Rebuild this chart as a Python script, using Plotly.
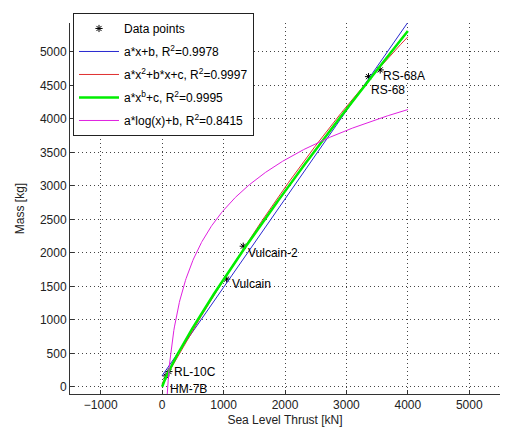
import numpy as np
import plotly.graph_objects as go

# Data
engines = ["HM-7B", "RL-10C", "Vulcain", "Vulcain-2", "RS-68", "RS-68A"]
thrust_kN = [62, 110, 1050, 1320, 3360, 3550]
mass_kg = [165, 230, 1610, 2100, 4630, 4730]

legend_labels = [
    "Data points",
    "a*x+b, R<sup>2</sup>=0.9978",
    "a*x<sup>2</sup>+b*x+c, R<sup>2</sup>=0.9997",
    "a*x<sup>b</sup>+c, R<sup>2</sup>=0.9995",
    "a*log(x)+b, R<sup>2</sup>=0.8415",
]

x = np.array(thrust_kN, dtype=float)
y = np.array(mass_kg, dtype=float)
xf = np.linspace(0, 4000, 401)

# linear fit
p1 = np.polyfit(x, y, 1)
y_lin = np.polyval(p1, xf)
# quadratic fit
p2 = np.polyfit(x, y, 2)
y_quad = np.polyval(p2, xf)
# power fit a*x^b+c (grid search over b)
best = None
for b in np.linspace(0.5, 1.5, 1001):
    A = np.vstack([x**b, np.ones_like(x)]).T
    coef, res, *_ = np.linalg.lstsq(A, y, rcond=None)
    r = np.sum((A @ coef - y) ** 2)
    if best is None or r < best[0]:
        best = (r, b, coef)
_, bp, (ap, cp) = best
y_pow = ap * xf**bp + cp
# log fit
A = np.vstack([np.log(x), np.ones_like(x)]).T
(al, bl), *_ = np.linalg.lstsq(A, y, rcond=None)
xl = xf[1:]
y_log = al * np.log(xl) + bl

FONT = "Liberation Sans, Arial"

fig = go.Figure()
fig.add_trace(go.Scatter(x=thrust_kN, y=mass_kg, mode="markers", name=legend_labels[0],
                         legendgroup="g0",
                         marker=dict(symbol="asterisk-open", size=6, color="black",
                                     line=dict(color="black", width=1))))
fig.add_trace(go.Scatter(x=xf, y=y_lin, mode="lines", name=legend_labels[1], legendgroup="g1",
                         line=dict(color="#2828d0", width=1)))
fig.add_trace(go.Scatter(x=xf, y=y_quad, mode="lines", name=legend_labels[2], legendgroup="g2",
                         line=dict(color="#e03030", width=1)))
fig.add_trace(go.Scatter(x=xf, y=y_pow, mode="lines", name=legend_labels[3], legendgroup="g3",
                         line=dict(color="#00ee00", width=2.5)))
fig.add_trace(go.Scatter(x=xl, y=y_log, mode="lines", name=legend_labels[4], legendgroup="g4",
                         line=dict(color="#e020e0", width=1)))

label_shift = {"HM-7B": (2, -13), "RL-10C": (3, 0), "Vulcain": (3, -5),
               "Vulcain-2": (3, -7), "RS-68": (0, -13), "RS-68A": (1, -6)}
for name, tx, my in zip(engines, thrust_kN, mass_kg):
    dx, dy = label_shift[name]
    fig.add_annotation(x=tx, y=my, text=name, showarrow=False, xanchor="left",
                       yanchor="middle", xshift=dx, yshift=dy,
                       font=dict(family=FONT, size=12, color="black"))

axis_common = dict(showgrid=True, gridcolor="#444444", griddash="1px,3px", gridwidth=1,
                   zeroline=False, showline=True, linecolor="#333333", linewidth=1,
                   ticks="inside", ticklen=4, tickcolor="#333333",
                   tickfont=dict(family=FONT, size=12, color="#222222"),
                   mirror=False)
fig.update_xaxes(range=[-1500, 5500], tickvals=[-1000, 0, 1000, 2000, 3000, 4000, 5000],
                 title=dict(text="Sea Level Thrust [kN]", standoff=4,
                            font=dict(family=FONT, size=12, color="#222222")),
                 **axis_common)
fig.update_yaxes(range=[-105, 5430], tickvals=list(range(0, 5001, 500)),
                 title=dict(text="Mass [kg]", standoff=12,
                            font=dict(family=FONT, size=12, color="#222222")),
                 **axis_common)

fig.update_layout(
    width=509, height=433,
    margin=dict(l=70, r=9, t=23, b=39),
    paper_bgcolor="white", plot_bgcolor="white",
    showlegend=True,
    legend=dict(x=0.007, y=1.027, xanchor="left", yanchor="top",
                bgcolor="white", bordercolor="#222222", borderwidth=1,
                font=dict(family=FONT, size=12, color="black"),
                itemwidth=40, tracegroupgap=4),
)

fig.write_html("out.html")
